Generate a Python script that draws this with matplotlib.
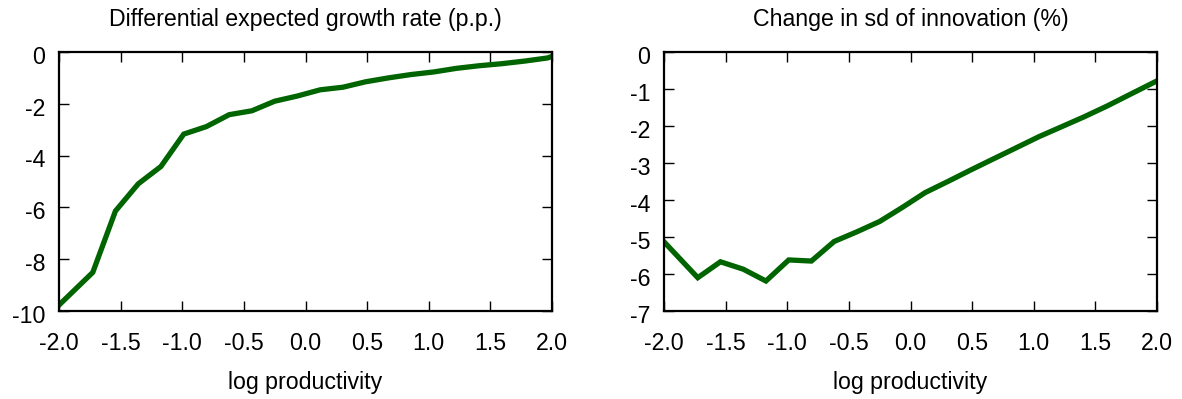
import matplotlib
matplotlib.use("Agg")
import matplotlib.pyplot as plt
from matplotlib.transforms import ScaledTranslation

plt.rcParams["font.family"] = ["Liberation Sans", "DejaVu Sans"]

# log productivity grid (clipped to [-2, 2])
log_prod = [-2.0, -1.726, -1.542, -1.357, -1.173, -0.988, -0.804, -0.619,
            -0.435, -0.25, -0.066, 0.119, 0.303, 0.488, 0.672, 0.857,
            1.041, 1.226, 1.41, 1.595, 1.779, 1.964, 2.0]

# differential expected growth rate, percentage points
growth_diff = [-9.77, -8.51, -6.14, -5.09, -4.42, -3.17, -2.88, -2.42,
               -2.27, -1.90, -1.70, -1.46, -1.36, -1.15, -1.00, -0.87,
               -0.77, -0.63, -0.53, -0.45, -0.35, -0.23, -0.17]

# change in sd of innovation, percent
sd_change = [-5.13, -6.10, -5.67, -5.87, -6.19, -5.62, -5.65, -5.12,
             -4.86, -4.58, -4.20, -3.80, -3.50, -3.19, -2.89, -2.59,
             -2.29, -2.02, -1.75, -1.46, -1.15, -0.84, -0.78]

x_ticks = [-2.0, -1.5, -1.0, -0.5, 0.0, 0.5, 1.0, 1.5, 2.0]
x_ticklabels = ["-2.0", "-1.5", "-1.0", "-0.5", "0.0", "0.5", "1.0", "1.5", "2.0"]

titles = ["Differential expected growth rate (p.p.)", "Change in sd of innovation (%)"]
xlabel = "log productivity"

W, H = 1182, 399
fig = plt.figure(figsize=(W / 100, H / 100), dpi=100)

line_color = "#006400"
fs = 16.7

panels = [
    dict(left=59, series=growth_diff, ylim=(-10, 0), yticks=list(range(-10, 1, 2))),
    dict(left=664, series=sd_change, ylim=(-7, 0), yticks=list(range(-7, 1, 1))),
]

top_px, bottom_px, width_px = 52, 311, 493
for p, title in zip(panels, titles):
    ax = fig.add_axes([p["left"] / W, (H - bottom_px) / H,
                       width_px / W, (bottom_px - top_px) / H])
    ax.plot(log_prod, p["series"], color=line_color, lw=3.8,
            solid_joinstyle="miter", clip_on=True)
    ax.set_xlim(-2, 2)
    ax.set_ylim(*p["ylim"])
    ax.set_xticks(x_ticks)
    ax.set_xticklabels(x_ticklabels)
    ax.set_yticks(p["yticks"])
    ax.set_yticklabels([str(v) for v in p["yticks"]])
    ax.tick_params(direction="in", length=7, width=1.0, top=True, right=True,
                   labelsize=fs, colors="black")
    ax.tick_params(axis="x", pad=15)
    ax.tick_params(axis="y", pad=10)
    # y labels sit slightly below their ticks
    shift = ScaledTranslation(0, -2 / 72, fig.dpi_scale_trans)
    for lab in ax.get_yticklabels():
        lab.set_verticalalignment("center_baseline")
        lab.set_transform(lab.get_transform() + shift)
    for s in ax.spines.values():
        s.set_linewidth(1.6)
    ax.set_title(title, fontsize=fs, pad=19)
    ax.set_xlabel(xlabel, fontsize=fs, labelpad=12)

fig.savefig("out.png", dpi=100)
